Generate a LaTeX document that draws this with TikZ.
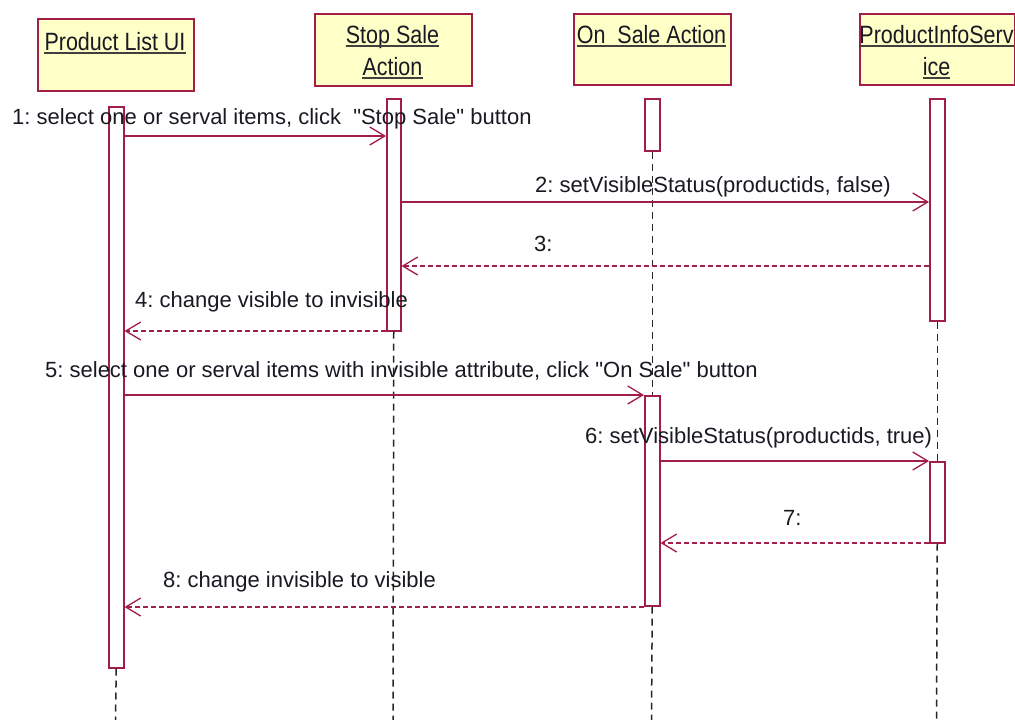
\documentclass[tikz,border=0pt]{standalone}
\usepackage{fontspec}
\setmainfont{Liberation Sans}[Ligatures=TeXOff]
\newfontfamily\hdrfont[FakeStretch=0.86,Ligatures=TeXOff]{Liberation Sans}
\usetikzlibrary{arrows.meta}
\definecolor{umlred}{RGB}{160,30,72}
\definecolor{umlfill}{RGB}{255,255,200}
\definecolor{txt}{RGB}{25,25,35}
\frenchspacing
\begin{document}
\begin{tikzpicture}[x=1pt,y=-1pt,
  headbox/.style={draw=umlred, fill=umlfill, line width=1.5pt, inner sep=0pt, anchor=north west},
  actbar/.style={draw=umlred, fill=white, line width=1.5pt, inner sep=0pt, anchor=north west, minimum width=15pt},
  htxt/.style={inner sep=0pt, anchor=base, text=txt, font=\hdrfont\fontsize{25}{28}\selectfont},
  lbl/.style={inner sep=0pt, anchor=base west, text=txt, font=\fontsize{22}{26}\selectfont},
  uline/.style={draw=black!75, line width=1.5pt},
  life/.style={draw=black!85, line width=1.5pt, dash pattern=on 7pt off 5pt},
  msg/.style={draw=umlred, line width=1.3pt, -{Straight Barb[length=15pt,width=18pt,line width=1.3pt]}},
  ret/.style={msg, dash pattern=on 5pt off 3pt}]
\useasboundingbox (0,0) rectangle (1015,720);

% heads
\node[headbox, minimum width=156pt, minimum height=72pt] (h1) at (37,18) {};
\node[headbox, minimum width=157pt, minimum height=72pt] (h2) at (314,13) {};
\node[headbox, minimum width=157pt, minimum height=71pt] (h3) at (573,13) {};
\node[headbox, minimum width=155pt, minimum height=71pt] (h4) at (859,13) {};

\node[htxt] (t1) at (115,50) {Product List UI};
\node[htxt] (t2a) at (392.5,43) {Stop Sale\ };
\node[htxt] (t2b) at (392.5,75) {Action};
\node[htxt] (t3) at (651.5,43) {On\ \ Sale Action};
\node[htxt] (t4a) at (936.5,43) {ProductInfoServ};
\node[htxt] (t4b) at (936.5,75) {ice};
\foreach \t in {t1,t2a,t2b,t3,t4a,t4b}
  \draw[uline] ([yshift=-3pt]\t.base west) -- ([yshift=-3pt]\t.base east);

% bottom coordinates
\coordinate (e1) at (115.5,720);
\coordinate (e2) at (393,720);
\coordinate (e3) at (651.5,720);
\coordinate (e4) at (936.5,720);

% activation bars
\node[actbar, minimum height=561pt] (b1) at (108,106) {};
\node[actbar, minimum width=14pt, minimum height=232pt] (b2) at (386,98) {};
\node[actbar, minimum height=52pt] (b3a) at (644,98) {};
\node[actbar, minimum height=210pt] (b3b) at (644,395) {};
\node[actbar, minimum height=222pt] (b4a) at (929,98) {};
\node[actbar, minimum height=81pt] (b4b) at (929,461) {};

% lifelines
\draw[life] (b1.south) -- (e1);
\draw[life] (b2.south) -- (e2);
\draw[life] (b3a.south) -- (b3b.north);
\draw[life] (b3b.south) -- (e3);
\draw[life] (b4a.south) -- (b4b.north);
\draw[life] (b4b.south) -- (e4);

% message levels
\coordinate (m1) at (0,136);
\coordinate (m2) at (0,202);
\coordinate (m3) at (0,266);
\coordinate (m4) at (0,331);
\coordinate (m5) at (0,395);
\coordinate (m6) at (0,461);
\coordinate (m7) at (0,543);
\coordinate (m8) at (0,607);

\draw[msg] (b1.east |- m1) -- (b2.west |- m1);
\draw[msg] (b2.east |- m2) -- (b4a.west |- m2);
\draw[ret] (b4a.west |- m3) -- (b2.east |- m3);
\draw[ret] (b2.west |- m4) -- (b1.east |- m4);
\draw[msg] (b1.east |- m5) -- (b3b.west |- m5);
\draw[msg] (b3b.east |- m6) -- (b4b.west |- m6);
\draw[ret] (b4b.west |- m7) -- (b3b.east |- m7);
\draw[ret] (b3b.west |- m8) -- (b1.east |- m8);

% labels
\node[lbl] (l1) at (12,124) {1: select one or serval items, click\ \ "Stop Sale" button};
\node[lbl] (l2) at (535,192) {2: setVisibleStatus(productids, false)};
\node[lbl] (l3) at (534,251) {3:};
\node[lbl] (l4) at (135,307) {4: change visible to invisible};
\node[lbl] (l5) at (45,377) {5: select one or serval items with invisible attribute, click "On Sale" button};
\node[lbl] (l6) at (585,443) {6: setVisibleStatus(productids, true)};
\node[lbl] (l7) at (783,525) {7:};
\node[lbl] (l8) at (163,587) {8: change invisible to visible};
\end{tikzpicture}
\end{document}
